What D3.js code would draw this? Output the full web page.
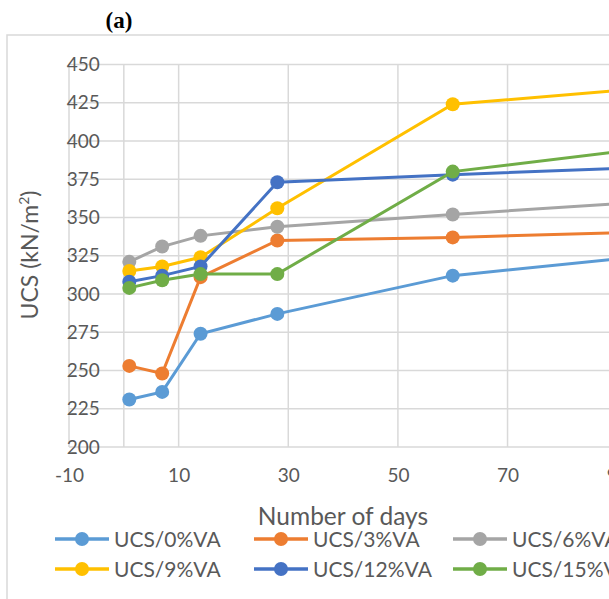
<!DOCTYPE html>
<html>
<head>
<meta charset="utf-8">
<script src="https://cdn.jsdelivr.net/npm/d3@7"></script>
<style>
  body { margin: 0; background: #fff; }
  text { font-family: Lato, "Liberation Sans", sans-serif; }
</style>
</head>
<body>
<script>
var w = 609;
var h = 599;

// data
var days = [1, 7, 14, 28, 60, 90];
var seriesNames = ["UCS/0%VA", "UCS/3%VA", "UCS/6%VA", "UCS/9%VA", "UCS/12%VA", "UCS/15%VA"];
var ucs0 = [231, 236, 274, 287, 312, 323];
var ucs3 = [253, 248, 311, 335, 337, 340];
var ucs6 = [321, 331, 338, 344, 352, 359];
var ucs9 = [315, 318, 324, 356, 424, 433];
var ucs12 = [308, 312, 318, 373, 378, 382];
var ucs15 = [304, 309, 313, 313, 380, 393];
var colors = ["#5B9BD5", "#ED7D31", "#A5A5A5", "#FFC000", "#4472C4", "#70AD47"];
var xTicks = [-10, 10, 30, 50, 70, 90];
var yTicks = [200, 225, 250, 275, 300, 325, 350, 375, 400, 425, 450];

var allSeries = [ucs0, ucs3, ucs6, ucs9, ucs12, ucs15];

var svg = d3.select("body")
    .append("svg")
    .attr("width", w)
    .attr("height", h);

// chart frame
svg.append("rect")
    .attr("x", 7).attr("y", 35)
    .attr("width", 700).attr("height", 600)
    .style("fill", "none")
    .style("stroke", "#D9D9D9")
    .style("stroke-width", 1.5);

// title
svg.append("text")
    .attr("x", 119).attr("y", 28)
    .attr("text-anchor", "middle")
    .style("font-family", "'Liberation Serif', 'DejaVu Serif', serif")
    .style("font-weight", "bold")
    .style("font-size", "23px")
    .style("fill", "#000")
    .text("(a)");

var x = d3.scaleLinear().domain([-10, 100]).range([69, 672]);
var y = d3.scaleLinear().domain([200, 450]).range([447, 64.5]);

// gridlines
svg.append("g")
    .selectAll("line")
    .data(yTicks)
    .enter()
    .append("line")
    .attr("x1", x(-10)).attr("x2", x(100))
    .attr("y1", function(d){ return y(d); })
    .attr("y2", function(d){ return y(d); })
    .style("stroke", "#D9D9D9")
    .style("stroke-width", 1.5);

svg.append("g")
    .selectAll("line")
    .data(xTicks.concat([0]))
    .enter()
    .append("line")
    .attr("x1", function(d){ return x(d); })
    .attr("x2", function(d){ return x(d); })
    .attr("y1", y(450)).attr("y2", y(200))
    .style("stroke", "#D9D9D9")
    .style("stroke-width", 1.5);

// y tick labels (axis crosses at x = 0)
var yAxis = svg.append("g")
    .attr("transform", "translate(" + x(0) + ",0)")
    .call(d3.axisLeft(y).tickValues(yTicks).tickSize(0).tickPadding(24));
yAxis.select(".domain").remove();
yAxis.attr("font-family", null);
yAxis.selectAll("text")
    .style("font-size", "19px")
    .style("fill", "#595959");

// x tick labels, plain hyphen for the minus like the original
var xAxis = svg.append("g")
    .attr("transform", "translate(0," + y(200) + ")")
    .call(d3.axisBottom(x).tickValues(xTicks).tickSize(0).tickPadding(22)
        .tickFormat(function(d){ return String(d); }));
xAxis.select(".domain").remove();
xAxis.attr("font-family", null);
xAxis.selectAll("text")
    .style("font-size", "19px")
    .style("fill", "#595959");

// axis titles
var yTitle = svg.append("text")
    .attr("transform", "translate(38,255) rotate(-90)")
    .attr("text-anchor", "middle")
    .style("font-size", "23px")
    .style("fill", "#595959");
yTitle.append("tspan").text("UCS (kN/m");
yTitle.append("tspan").attr("dy", -9).style("font-size", "14px").text("2");
yTitle.append("tspan").attr("dy", 9).text(")");

svg.append("text")
    .attr("x", 343).attr("y", 525)
    .attr("text-anchor", "middle")
    .style("font-size", "24.5px")
    .style("fill", "#595959")
    .text("Number of days");

// lines and markers
var line = d3.line()
    .x(function(d, i){ return x(days[i]); })
    .y(function(d){ return y(d); });

allSeries.forEach(function(s, k) {
    svg.append("path")
        .datum(s)
        .attr("d", line)
        .style("fill", "none")
        .style("stroke", colors[k])
        .style("stroke-width", 3);
    svg.append("g")
        .selectAll("circle")
        .data(s)
        .enter()
        .append("circle")
        .attr("cx", function(d, i){ return x(days[i]); })
        .attr("cy", function(d){ return y(d); })
        .attr("r", 7)
        .style("fill", colors[k]);
});

// legend
var legX = [55, 254, 453];
var legY = [539, 569];
var leg = svg.append("g")
    .selectAll("g")
    .data(seriesNames)
    .enter()
    .append("g")
    .attr("transform", function(d, i){
        return "translate(" + legX[i % 3] + "," + legY[Math.floor(i / 3)] + ")";
    });
leg.append("line")
    .attr("x1", 0).attr("x2", 54)
    .attr("y1", 0).attr("y2", 0)
    .style("stroke", function(d, i){ return colors[i]; })
    .style("stroke-width", 3.5);
leg.append("circle")
    .attr("cx", 27).attr("cy", 0).attr("r", 7)
    .style("fill", function(d, i){ return colors[i]; });
leg.append("text")
    .attr("x", 59).attr("y", 7.5)
    .style("font-size", "21px")
    .style("fill", "#595959")
    .text(function(d){ return d; });
</script>
</body>
</html>
